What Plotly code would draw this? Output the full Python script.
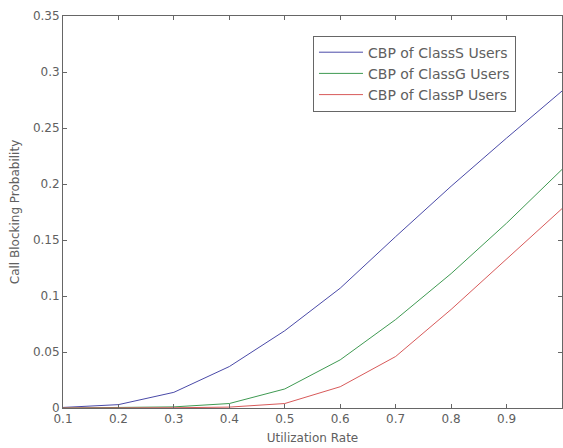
import plotly.graph_objects as go

x_vals = [0.1, 0.2, 0.3, 0.4, 0.5, 0.6, 0.7, 0.8, 0.9, 1.0]
class_s = [0.0005, 0.003, 0.014, 0.037, 0.069, 0.107, 0.153, 0.198, 0.241, 0.283]
class_g = [0.0, 0.0003, 0.001, 0.004, 0.017, 0.043, 0.079, 0.120, 0.165, 0.213]
class_p = [0.0, 0.0, 0.0002, 0.0008, 0.004, 0.019, 0.046, 0.088, 0.133, 0.178]

series_names = ["CBP of ClassS Users", "CBP of ClassG Users", "CBP of ClassP Users"]
series_colors = ["#4a4aa8", "#3f9a52", "#d85a5a"]

x_ticks = [0.1, 0.2, 0.3, 0.4, 0.5, 0.6, 0.7, 0.8, 0.9, 1.0]
x_tick_text = ["0.1", "0.2", "0.3", "0.4", "0.5", "0.6", "0.7", "0.8", "0.9", "1"]
y_ticks = [0, 0.05, 0.1, 0.15, 0.2, 0.25, 0.3, 0.35]
y_tick_text = ["0", "0.05", "0.1", "0.15", "0.2", "0.25", "0.3", "0.35"]

FONT = "DejaVu Sans, Arial"
TXT = "#606060"

fig = go.Figure()
for name, ys, col in zip(series_names, [class_s, class_g, class_p], series_colors):
    fig.add_trace(go.Scatter(x=x_vals, y=ys, mode="lines", name=name,
                             line=dict(color=col, width=1)))

axis_common = dict(showline=True, linecolor="#666666", linewidth=1, mirror="ticks",
                   ticks="inside", ticklen=4, tickcolor="#666666", showgrid=False,
                   zeroline=False, automargin=False,
                   tickfont=dict(family=FONT, size=12, color=TXT))

fig.update_xaxes(range=[0.1, 1.0], tickvals=x_ticks, ticktext=x_tick_text,
                 title=dict(text="Utilization Rate", standoff=8,
                            font=dict(family=FONT, size=12, color=TXT)),
                 **axis_common)
fig.update_yaxes(range=[0, 0.35], tickvals=y_ticks, ticktext=y_tick_text,
                 title=dict(text="Call Blocking Probability", standoff=10,
                            font=dict(family=FONT, size=12, color=TXT)),
                 **axis_common)

fig.update_layout(
    width=563, height=448,
    margin=dict(l=63, r=1, t=16, b=40),
    paper_bgcolor="white", plot_bgcolor="white",
    showlegend=True,
    legend=dict(x=0.501, y=0.95, xanchor="left", yanchor="top",
                bgcolor="white", bordercolor="#666666", borderwidth=1,
                font=dict(family=FONT, size=14, color=TXT),
                tracegroupgap=0, itemwidth=44),
)

fig.write_html(
    "out.html",
    config={"displayModeBar": False},
    post_script="document.body.style.margin='0';document.body.style.overflow='hidden';",
)
